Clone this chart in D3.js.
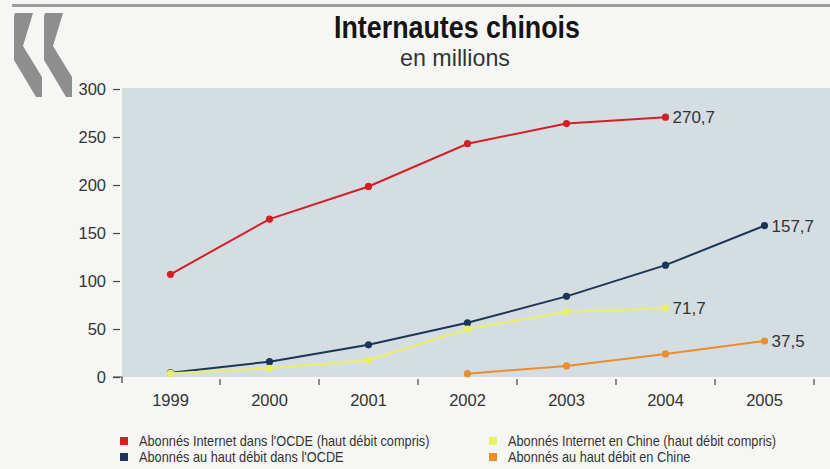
<!DOCTYPE html>
<html>
<head>
<meta charset="utf-8">
<script src="https://cdn.jsdelivr.net/npm/d3@7"></script>
<style>
  html, body { margin: 0; padding: 0; background: #f6f7f5; }
  svg { display: block; }
  text { font-family: "Liberation Sans", Arial, sans-serif; fill: #333; }
</style>
</head>
<body>
<svg id="chart" width="830" height="469"></svg>
<script>
// Years on the horizontal axis
const years = ["1999", "2000", "2001", "2002", "2003", "2004", "2005"];
// Values in millions (null = no data for that year)
const ocdeInternet   = [107, 164.5, 198.5, 243, 264, 270.7, null];
const ocdeHautDebit  = [4.5, 16, 33.5, 56.5, 84, 116.5, 157.7];
const chineInternet  = [4, 9, 17.5, 50, 68, 71.7, null];
const chineHautDebit = [null, null, null, 3.5, 11.5, 24, 37.5];
const yTicks = [0, 50, 100, 150, 200, 250, 300];

const seriesNames = [
  "Abonnés Internet dans l'OCDE (haut débit compris)",
  "Abonnés au haut débit dans l'OCDE",
  "Abonnés Internet en Chine (haut débit compris)",
  "Abonnés au haut débit en Chine"
];
const seriesColors = ["#d81e25", "#1b3557", "#eaf064", "#e98f2b"];
const seriesValues = [ocdeInternet, ocdeHautDebit, chineInternet, chineHautDebit];
const endLabels = ["270,7", "157,7", "71,7", "37,5"];

const svg = d3.select("#chart");

// Horizontal condensing for narrow type (no condensed face installed)
function condense(sel, factor) {
  sel.each(function () {
    const w = this.getComputedTextLength();
    d3.select(this).attr("textLength", w * factor).attr("lengthAdjust", "spacingAndGlyphs");
  });
}

// Top rule and decorative guillemets
svg.append("rect").attr("x", 12).attr("y", 4).attr("width", 818).attr("height", 3).attr("fill", "#9c9c9c");
const chevron = [[15,13],[33,13],[23,46],[42,77],[42,97],[36,97],[14,60],[14,16]];
[0, 30].forEach(dx => {
  svg.append("polygon")
    .attr("points", chevron.map(p => [p[0] + dx, p[1]].join(",")).join(" "))
    .attr("fill", "#8e8e8e");
});

// Title block
svg.append("text")
  .attr("x", 457).attr("y", 38).attr("text-anchor", "middle")
  .attr("font-size", 32).attr("font-weight", "bold")
  .attr("textLength", 246).attr("lengthAdjust", "spacingAndGlyphs")
  .style("fill", "#151515")
  .text("Internautes chinois");
svg.append("text")
  .attr("x", 455).attr("y", 66).attr("text-anchor", "middle")
  .attr("font-size", 24)
  .attr("textLength", 110).attr("lengthAdjust", "spacingAndGlyphs")
  .style("fill", "#333")
  .text("en millions");

// Scales
const x = d3.scaleBand().domain(years).range([121, 814]).padding(0);
const y = d3.scaleLinear().domain([0, 300]).range([377, 89]);
const cx = d => x(d) + x.bandwidth() / 2;

// Plot background
svg.append("rect")
  .attr("x", 122).attr("y", y(300) - 1)
  .attr("width", 830 - 122).attr("height", y(0) - y(300) + 1)
  .attr("fill", "#d4dde2");

// Y axis
const yAxis = svg.append("g")
  .attr("transform", "translate(120,0)")
  .call(d3.axisLeft(y).tickValues(yTicks).tickSize(7).tickPadding(7).tickFormat(d3.format("d")));
yAxis.select(".domain").remove();
yAxis.selectAll("line").attr("stroke", "#444").attr("stroke-width", 1.2);
yAxis.selectAll("text").attr("font-size", 16.5).style("fill", "#333")
  .attr("font-family", "'Liberation Sans', Arial, sans-serif");
// corner mark at the origin
svg.append("path")
  .attr("d", `M113,${y(0)}H122V${y(0) + 6}`)
  .attr("fill", "none").attr("stroke", "#444").attr("stroke-width", 1.2);

// X axis: labels centred in each band, marks at band boundaries
const xAxis = svg.append("g")
  .attr("transform", `translate(0,${y(0)})`)
  .call(d3.axisBottom(x).tickSize(0).tickPadding(17));
xAxis.select(".domain").remove();
xAxis.selectAll("text").attr("font-size", 16.5).style("fill", "#333")
  .attr("font-family", "'Liberation Sans', Arial, sans-serif");
svg.append("g").selectAll("line")
  .data(years.slice(1).concat(["end"]))
  .join("line")
  .attr("x1", (d, i) => x(years[0]) + x.step() * (i + 1))
  .attr("x2", (d, i) => x(years[0]) + x.step() * (i + 1))
  .attr("y1", y(0) + 2).attr("y2", y(0) + 8)
  .attr("stroke", "#444").attr("stroke-width", 1.2);

// Lines and markers
const line = d3.line()
  .defined(d => d.v != null)
  .x(d => cx(d.year))
  .y(d => y(d.v));

seriesValues.forEach((vals, s) => {
  const pts = years.map((yr, i) => ({ year: yr, v: vals[i] }));
  const g = svg.append("g");
  g.append("path").datum(pts)
    .attr("d", line)
    .attr("fill", "none")
    .attr("stroke", seriesColors[s])
    .attr("stroke-width", 2);
  g.selectAll("circle").data(pts.filter(d => d.v != null))
    .join("circle")
    .attr("cx", d => cx(d.year)).attr("cy", d => y(d.v))
    .attr("r", 3.6).attr("fill", seriesColors[s]);
  const last = pts.filter(d => d.v != null).slice(-1)[0];
  g.append("text")
    .attr("x", cx(last.year) + 7).attr("y", y(last.v) + 6)
    .attr("font-size", 17).style("fill", "#333")
    .text(endLabels[s]);
});

// Legend in two columns
const legendPos = [[120, 441], [120, 457], [489, 441], [489, 457]];
seriesNames.forEach((name, s) => {
  const [lx, ly] = legendPos[s];
  svg.append("rect")
    .attr("x", lx).attr("y", ly - 4).attr("width", 8).attr("height", 8)
    .attr("fill", seriesColors[s]);
  svg.append("text").attr("class", "legend-label")
    .attr("x", lx + 19).attr("y", ly + 5)
    .attr("font-size", 14.5).style("fill", "#333")
    .text(name);
});
condense(svg.selectAll(".legend-label"), 0.88);
</script>
</body>
</html>
